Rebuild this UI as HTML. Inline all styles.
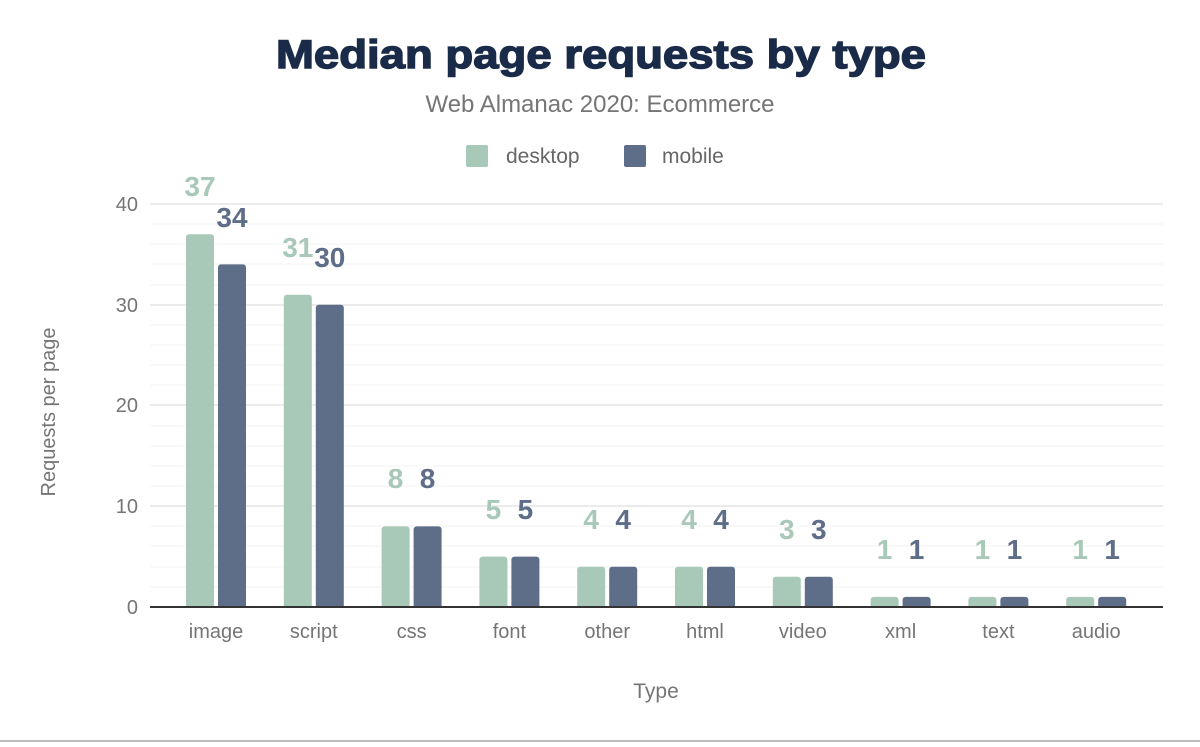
<!DOCTYPE html><html><head><style>body{margin:0;background:#fff;width:1200px;height:742px;overflow:hidden}</style></head><body>
<svg width="1200" height="742" xmlns="http://www.w3.org/2000/svg" font-family="Liberation Sans, Arial, sans-serif">
<rect width="1200" height="742" fill="#fff"/>
<text x="601" y="68" text-anchor="middle" font-size="40" font-weight="bold" fill="#1a2b49" stroke="#1a2b49" stroke-width="1.4" textLength="650" lengthAdjust="spacingAndGlyphs">Median page requests by type</text>
<text x="600" y="112" text-anchor="middle" font-size="24" fill="#757575">Web Almanac 2020: Ecommerce</text>
<rect x="466" y="145" width="22" height="22" rx="2" fill="#a8c8b8"/><text x="506" y="163" font-size="21" fill="#666">desktop</text>
<rect x="624" y="145" width="22" height="22" rx="2" fill="#5e6d88"/><text x="662" y="163" font-size="21" fill="#666">mobile</text>
<g stroke="#f3f3f3" stroke-width="1">
<line x1="150" x2="1163" y1="587" y2="587"/><line x1="150" x2="1163" y1="567" y2="567"/><line x1="150" x2="1163" y1="546" y2="546"/><line x1="150" x2="1163" y1="526" y2="526"/>
<line x1="150" x2="1163" y1="486" y2="486"/><line x1="150" x2="1163" y1="466" y2="466"/><line x1="150" x2="1163" y1="446" y2="446"/><line x1="150" x2="1163" y1="426" y2="426"/>
<line x1="150" x2="1163" y1="385" y2="385"/><line x1="150" x2="1163" y1="365" y2="365"/><line x1="150" x2="1163" y1="345" y2="345"/><line x1="150" x2="1163" y1="325" y2="325"/>
<line x1="150" x2="1163" y1="285" y2="285"/><line x1="150" x2="1163" y1="264" y2="264"/><line x1="150" x2="1163" y1="244" y2="244"/><line x1="150" x2="1163" y1="224" y2="224"/>
</g>
<g stroke="#ebebeb" stroke-width="2">
<line x1="150" x2="1163" y1="506" y2="506"/><line x1="150" x2="1163" y1="405" y2="405"/><line x1="150" x2="1163" y1="305" y2="305"/><line x1="150" x2="1163" y1="204" y2="204"/>
</g>
<g fill="#a8c8b8">
<rect x="186" y="234.2" width="28" height="376.8" rx="3"/>
<rect x="283.8" y="294.7" width="28" height="316.3" rx="3"/>
<rect x="381.6" y="526.4" width="28" height="84.6" rx="3"/>
<rect x="479.4" y="556.6" width="28" height="54.4" rx="3"/>
<rect x="577.2" y="566.7" width="28" height="44.3" rx="3"/>
<rect x="675" y="566.7" width="28" height="44.3" rx="3"/>
<rect x="772.8" y="576.8" width="28" height="34.2" rx="3"/>
<rect x="870.6" y="596.9" width="28" height="14.1" rx="3"/>
<rect x="968.4" y="596.9" width="28" height="14.1" rx="3"/>
<rect x="1066.2" y="596.9" width="28" height="14.1" rx="3"/>
</g>
<g fill="#5e6d88">
<rect x="218" y="264.4" width="28" height="346.6" rx="3"/>
<rect x="315.8" y="304.7" width="28" height="306.3" rx="3"/>
<rect x="413.6" y="526.4" width="28" height="84.6" rx="3"/>
<rect x="511.4" y="556.6" width="28" height="54.4" rx="3"/>
<rect x="609.2" y="566.7" width="28" height="44.3" rx="3"/>
<rect x="707" y="566.7" width="28" height="44.3" rx="3"/>
<rect x="804.8" y="576.8" width="28" height="34.2" rx="3"/>
<rect x="902.6" y="596.9" width="28" height="14.1" rx="3"/>
<rect x="1000.4" y="596.9" width="28" height="14.1" rx="3"/>
<rect x="1098.2" y="596.9" width="28" height="14.1" rx="3"/>
</g>
<rect x="150" y="607" width="1050" height="6" fill="#fff"/>
<g font-size="20" fill="#757575" text-anchor="end">
<text x="138" y="614">0</text><text x="138" y="513">10</text><text x="138" y="412">20</text><text x="138" y="312">30</text><text x="138" y="211">40</text>
</g>
<text transform="translate(55,412) rotate(-90)" text-anchor="middle" font-size="20" fill="#757575">Requests per page</text>
<g font-size="28" font-weight="bold" text-anchor="middle" fill="#a8c8b8">
<text x="200" y="196">37</text><text x="297.8" y="257">31</text><text x="395.6" y="488">8</text><text x="493.4" y="519">5</text><text x="591.2" y="529">4</text><text x="689" y="529">4</text><text x="786.8" y="539">3</text><text x="884.6" y="559">1</text><text x="982.4" y="559">1</text><text x="1080.2" y="559">1</text>
</g>
<g font-size="28" font-weight="bold" text-anchor="middle" fill="#5e6d88">
<text x="232" y="227">34</text><text x="329.8" y="267">30</text><text x="427.6" y="488">8</text><text x="525.4" y="519">5</text><text x="623.2" y="529">4</text><text x="721" y="529">4</text><text x="818.8" y="539">3</text><text x="916.6" y="559">1</text><text x="1014.4" y="559">1</text><text x="1112.2" y="559">1</text>
</g>
<g font-size="20" fill="#757575" text-anchor="middle">
<text x="216" y="638">image</text><text x="313.8" y="638">script</text><text x="411.6" y="638">css</text><text x="509.4" y="638">font</text><text x="607.2" y="638">other</text><text x="705" y="638">html</text><text x="802.8" y="638">video</text><text x="900.6" y="638">xml</text><text x="998.4" y="638">text</text><text x="1096.2" y="638">audio</text>
</g>
<line x1="150" x2="1163" y1="607" y2="607" stroke="#333" stroke-width="2"/>
<text x="656" y="698" text-anchor="middle" font-size="21" fill="#757575">Type</text>
<line x1="0" x2="1200" y1="741" y2="741" stroke="#bbb" stroke-width="2"/>
</svg></body></html>
